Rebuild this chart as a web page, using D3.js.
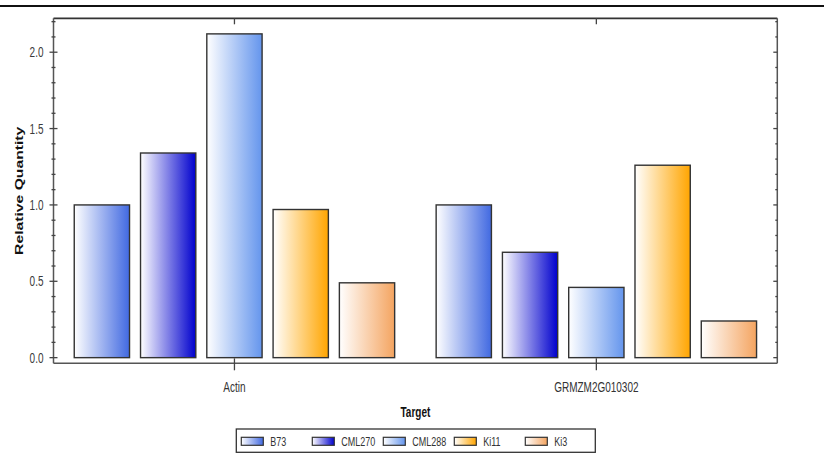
<!DOCTYPE html>
<html>
<head>
<meta charset="utf-8">
<script src="https://cdn.jsdelivr.net/npm/d3@7"></script>
<style>
  html, body { margin: 0; padding: 0; background: #fff; }
  svg { display: block; }
  text { font-family: "Liberation Sans", Arial, sans-serif; }
</style>
</head>
<body>
<svg id="chart" width="824" height="457"></svg>
<script>
// ---- data ----
const categories = ["Actin", "GRMZM2G010302"];
const seriesNames = ["B73", "CML270", "CML288", "Ki11", "Ki3"];
const valuesB73    = [1.00, 1.00];
const valuesCML270 = [1.34, 0.69];
const valuesCML288 = [2.12, 0.46];
const valuesKi11   = [0.97, 1.26];
const valuesKi3    = [0.49, 0.24];
const seriesColors = ["#4169E1", "#0000CD", "#6495ED", "#FFA500", "#F4A460"];
const yTickValues = [0.0, 0.5, 1.0, 1.5, 2.0];
const yMinorTickValues = [0.1,0.2,0.3,0.4,0.6,0.7,0.8,0.9,1.1,1.2,1.3,1.4,1.6,1.7,1.8,1.9,2.1,2.2];
const yTitle = "Relative Quantity";
const xTitle = "Target";

const seriesValues = [valuesB73, valuesCML270, valuesCML288, valuesKi11, valuesKi3];
const rows = [];
categories.forEach((c, ci) => seriesNames.forEach((s, si) => rows.push({cat: c, series: s, value: seriesValues[si][ci], color: seriesColors[si]})));

// ---- layout ----
const svg = d3.select("#chart");
const W = 824;
const plot = {left: 53.5, right: 777.3, top: 18.3, bottom: 363.3};
const SY = 1.45; // vertical stretch of text

const x0 = d3.scaleBand().domain(categories).range([plot.left, plot.right]).paddingInner(0).paddingOuter(0);
const x1 = d3.scaleBand().domain(seriesNames).range([0, x0.bandwidth()]).paddingInner(0.166).paddingOuter(0.313);
const y = d3.scaleLinear().domain([-0.037, 2.222]).range([plot.bottom, plot.top]);

// gradients
const defs = svg.append("defs");
seriesNames.forEach((s, i) => {
  const g = defs.append("linearGradient").attr("id", "grad" + i)
    .attr("x1", "0%").attr("x2", "100%").attr("y1", "0%").attr("y2", "0%");
  g.append("stop").attr("offset", "0%").attr("stop-color", "#ffffff");
  g.append("stop").attr("offset", "100%").attr("stop-color", seriesColors[i]);
});

// top separator line
svg.append("line").attr("x1", 0).attr("x2", W).attr("y1", 6).attr("y2", 6)
  .attr("stroke", "#111").attr("stroke-width", 2.2);

// bars
svg.append("g").selectAll("rect").data(rows).join("rect")
  .attr("x", d => x0(d.cat) + x1(d.series))
  .attr("width", x1.bandwidth())
  .attr("y", d => y(d.value))
  .attr("height", d => y(0) - y(d.value))
  .attr("fill", d => "url(#grad" + seriesNames.indexOf(d.series) + ")")
  .attr("stroke", "#333").attr("stroke-width", 1.4);

// frame
const frameColor = "#555";
svg.append("line").attr("x1", plot.left).attr("x2", plot.right).attr("y1", plot.top).attr("y2", plot.top)
  .attr("stroke", "#333").attr("stroke-width", 1.8);
svg.append("line").attr("x1", plot.left).attr("x2", plot.right).attr("y1", plot.bottom).attr("y2", plot.bottom)
  .attr("stroke", frameColor).attr("stroke-width", 1.5);
svg.append("line").attr("x1", plot.left).attr("x2", plot.left).attr("y1", plot.top).attr("y2", plot.bottom)
  .attr("stroke", frameColor).attr("stroke-width", 1.5);
svg.append("line").attr("x1", plot.right).attr("x2", plot.right).attr("y1", plot.top).attr("y2", plot.bottom)
  .attr("stroke", frameColor).attr("stroke-width", 1.5);

// y ticks (left, crossing) and right (inward)
const tg = svg.append("g").attr("stroke", "#444").attr("stroke-width", 1.3);
yTickValues.forEach(v => {
  tg.append("line").attr("x1", plot.left - 4).attr("x2", plot.left + 4).attr("y1", y(v)).attr("y2", y(v));
  tg.append("line").attr("x1", plot.right - 4).attr("x2", plot.right).attr("y1", y(v)).attr("y2", y(v));
});
yMinorTickValues.forEach(v => {
  tg.append("line").attr("x1", plot.left - 2).attr("x2", plot.left + 2).attr("y1", y(v)).attr("y2", y(v));
  tg.append("line").attr("x1", plot.right - 2).attr("x2", plot.right).attr("y1", y(v)).attr("y2", y(v));
});
// category ticks bottom (crossing) and top (inward)
categories.forEach(c => {
  const cx = x0(c) + x0.bandwidth() / 2;
  tg.append("line").attr("x1", cx).attr("x2", cx).attr("y1", plot.bottom - 5).attr("y2", plot.bottom + 7);
  tg.append("line").attr("x1", cx).attr("x2", cx).attr("y1", plot.top).attr("y2", plot.top + 6);
});

// helper for stretched text
function stretchedText(parent, tx, ty, str, opts) {
  const t = parent.append("text")
    .attr("transform", `translate(${tx},${ty}) scale(1,${SY})`)
    .attr("text-anchor", opts.anchor || "middle")
    .attr("font-size", opts.size || 10)
    .attr("font-weight", opts.weight || "normal")
    .attr("fill", opts.fill || "#333")
    .text(str);
  return t;
}

// y tick labels
const fmt = d3.format(".1f");
yTickValues.forEach(v => {
  stretchedText(svg, 43.5, y(v) + 5.2, fmt(v), {anchor: "end", size: 10, fill: "#3a3a3a"});
});

// category labels
categories.forEach(c => {
  stretchedText(svg, x0(c) + x0.bandwidth() / 2, 391.5, c, {size: 10, fill: "#333"});
});

// axis titles
stretchedText(svg, (plot.left + plot.right) / 2, 416.5, xTitle, {size: 10, weight: "bold", fill: "#111"});
svg.append("text")
  .attr("transform", `translate(22.5,${(plot.top + plot.bottom) / 2}) rotate(-90) scale(1.57,1)`)
  .attr("text-anchor", "middle").attr("font-size", 10).attr("font-weight", "bold").attr("fill", "#111")
  .text(yTitle);

// legend
const lg = svg.append("g");
const legX = 236.3, legY = 429, legW = 359, legH = 23.3, itemStep = 71;
lg.append("rect").attr("x", legX).attr("y", legY).attr("width", legW).attr("height", legH)
  .attr("fill", "#fff").attr("stroke", "#333").attr("stroke-width", 1.3);
seriesNames.forEach((s, i) => {
  const sx = legX + 5 + i * itemStep;
  lg.append("rect").attr("x", sx).attr("y", 437.3).attr("width", 22).attr("height", 8)
    .attr("fill", "url(#grad" + i + ")").attr("stroke", "#333").attr("stroke-width", 1.2);
  stretchedText(lg, sx + 29, 446, s, {anchor: "start", size: 9, fill: "#333"});
});
</script>
</body>
</html>
